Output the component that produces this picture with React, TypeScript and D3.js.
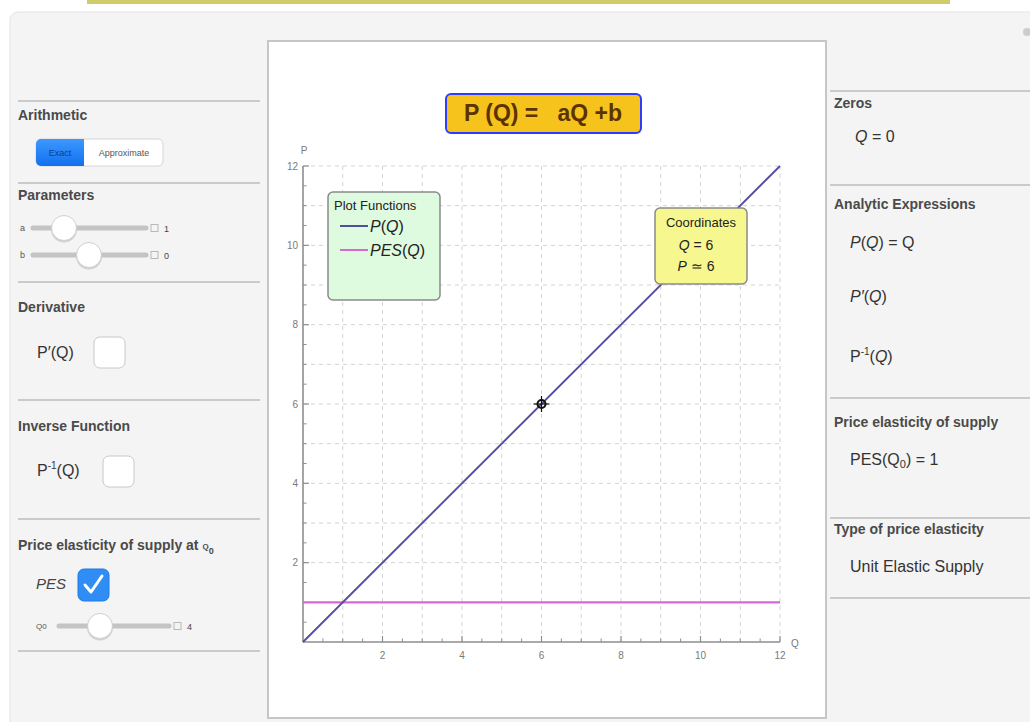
import React from "react";
import * as d3 from "d3";

// ---- data ----
const qDomain = [0, 12];
const pDomain = [0, 12];
const majorTicks = [2, 4, 6, 8, 10, 12];
const gridValues = [1, 2, 3, 4, 5, 6, 7, 8, 9, 10, 11, 12];
const minorTicks = [0.5, 1, 1.5, 2.5, 3, 3.5, 4.5, 5, 5.5, 6.5, 7, 7.5, 8.5, 9, 9.5, 10.5, 11, 11.5];
const supplyQ = [0, 12];
const supplyP = [0, 12];
const pesQ = [0, 12];
const pesP = [1, 1];
const markerQ = 6;
const markerP = 6;

const FONT = "'Liberation Sans', Arial, Helvetica, sans-serif";
const HEAD = "#4a4a4a";
const SEP = "#cacaca";

function Slider({ x1, x2, y, knob, value, label, labelX }: any) {
  return (
    <g>
      <text x={labelX} y={y + 3} fontSize={label.length > 1 ? 8 : 9} fill="#555" fontFamily={FONT}>{label}</text>
      <line x1={x1} x2={x2} y1={y} y2={y} stroke="#c4c4c4" strokeWidth={5} strokeLinecap="round" />
      <circle cx={knob} cy={y + 1.5} r={13} fill="#000" opacity={0.14} />
      <circle cx={knob} cy={y} r={12.5} fill="#fff" stroke="#cfcfcf" strokeWidth={1} />
      <rect x={x2 + 5} y={y - 3.5} width={7} height={7} fill="#f4f4f4" stroke="#b8b8b8" strokeWidth={1} />
      <text x={x2 + 18} y={y + 3.5} fontSize={9} fill="#444" fontFamily={FONT}>{value}</text>
    </g>
  );
}

export default function App() {
  const x = d3.scaleLinear().domain(qDomain).range([303, 780]);
  const y = d3.scaleLinear().domain(pDomain).range([642, 166]);
  const line = d3.line<number>().x((d, i) => x(supplyQ[i])).y((d) => y(d));
  const pesLine = d3.line<number>().x((d, i) => x(pesQ[i])).y((d) => y(d));

  const leftSeps = [101, 183, 282, 400, 519, 651];
  const rightSeps = [91, 185, 398, 518, 598];

  return (
    <svg width={1030} height={722} style={{ position: "absolute", left: 0, top: 0 }} fontFamily={FONT}>
      <defs>
        <linearGradient id="blueBtn" x1="0" y1="0" x2="0" y2="1">
          <stop offset="0" stopColor="#3d98ff" />
          <stop offset="1" stopColor="#1270ee" />
        </linearGradient>
      </defs>
      <rect x={0} y={0} width={1030} height={722} fill="#fff" />
      <rect x={87} y={-2} width={863} height={6} fill="#cfcc6a" />
      <rect x={10} y={12} width={1040} height={720} rx={8} fill="#f4f4f4" stroke="#e4e4e4" />
      <circle cx={1027} cy={32} r={4} fill="#ccc" />

      {/* left panel */}
      {leftSeps.map((s) => (
        <line key={s} x1={18} x2={260} y1={s} y2={s} stroke={SEP} strokeWidth={2} />
      ))}
      <text x={18} y={120} fontSize={14} fontWeight="bold" fill={HEAD}>Arithmetic</text>
      <rect x={36} y={139} width={127} height={27} rx={5} fill="#fff" stroke="#d6d6d6" />
      <path d="M41,139 H84 V166 H41 A5,5 0 0 1 36,161 V144 A5,5 0 0 1 41,139 Z" fill="url(#blueBtn)" />
      <text x={60} y={156} fontSize={9} fill="#0c3f90" textAnchor="middle">Exact</text>
      <text x={124} y={156} fontSize={9} fill="#555" textAnchor="middle">Approximate</text>

      <text x={18} y={200} fontSize={14} fontWeight="bold" fill={HEAD}>Parameters</text>
      <Slider x1={33} x2={146} y={228} knob={64} value="1" label="a" labelX={20} />
      <Slider x1={33} x2={146} y={255} knob={89} value="0" label="b" labelX={20} />

      <text x={18} y={312} fontSize={14} fontWeight="bold" fill={HEAD}>Derivative</text>
      <text x={37} y={358} fontSize={16} fill="#333">P′(Q)</text>
      <rect x={94} y={337} width={31} height={31} rx={6} fill="#fff" stroke="#c8c8c8" />

      <text x={18} y={431} fontSize={14} fontWeight="bold" fill={HEAD}>Inverse Function</text>
      <text x={37} y={476} fontSize={16} fill="#333">P<tspan dy={-7} fontSize={10}>-1</tspan><tspan dy={7}>(Q)</tspan></text>
      <rect x={103} y={456} width={31} height={31} rx={6} fill="#fff" stroke="#c8c8c8" />

      <text x={18} y={550} fontSize={14} fontWeight="bold" fill={HEAD}>Price elasticity of supply at <tspan fontSize={8} dy={-1}>Q</tspan><tspan fontSize={9} dy={5}>0</tspan></text>
      <text x={36} y={589} fontSize={15} fontStyle="italic" fill="#444">PES</text>
      <rect x={78} y={569} width={31} height={32} rx={6} fill="#2f8df5" stroke="#1c7ae6" />
      <path d="M85,585 L91,592 L102,576" fill="none" stroke="#fff" strokeWidth={3} strokeLinecap="round" strokeLinejoin="round" />
      <Slider x1={59} x2={169} y={626} knob={100} value="4" label="Q0" labelX={36} />

      {/* plot panel */}
      <rect x={268} y={41} width={558} height={677} fill="#fff" stroke="#c6c6c6" strokeWidth={2} />

      {/* grid */}
      {gridValues.map((v) => (
        <g key={"g" + v}>
          <line x1={x(v)} x2={x(v)} y1={y(0)} y2={y(12)} stroke="#d2d2d2" strokeDasharray="4,4" />
          <line x1={x(0)} x2={x(12)} y1={y(v)} y2={y(v)} stroke="#d2d2d2" strokeDasharray="4,4" />
        </g>
      ))}
      {/* axes */}
      <line x1={x(0)} x2={x(12)} y1={y(0)} y2={y(0)} stroke="#8e8e8e" strokeWidth={1.6} />
      <line x1={x(0)} x2={x(0)} y1={y(0)} y2={y(12)} stroke="#8e8e8e" strokeWidth={1.6} />
      {majorTicks.map((t) => (
        <g key={"m" + t}>
          <line x1={x(t)} x2={x(t)} y1={y(0)} y2={y(0) - 6} stroke="#8e8e8e" strokeWidth={1.2} />
          <line x1={x(0)} x2={x(0) + 6} y1={y(t)} y2={y(t)} stroke="#8e8e8e" strokeWidth={1.2} />
          <text x={x(t)} y={y(0) + 17} fontSize={10} fill="#7a7a7a" textAnchor="middle">{t}</text>
          <text x={x(0) - 5} y={y(t) + 3.5} fontSize={10} fill="#7a7a7a" textAnchor="end">{t}</text>
        </g>
      ))}
      {minorTicks.map((t) => (
        <g key={"n" + t}>
          <line x1={x(t)} x2={x(t)} y1={y(0)} y2={y(0) - 3.5} stroke="#8e8e8e" />
          <line x1={x(0)} x2={x(0) + 3.5} y1={y(t)} y2={y(t)} stroke="#8e8e8e" />
        </g>
      ))}
      <text x={x(0) + 1} y={y(12) - 12} fontSize={10} fill="#7a7a7a" textAnchor="middle">P</text>
      <text x={x(12) + 11} y={y(0) + 5} fontSize={10} fill="#7a7a7a">Q</text>

      {/* series */}
      <path d={pesLine(pesP) || ""} fill="none" stroke="#d66ad2" strokeWidth={2.2} />
      <path d={line(supplyP) || ""} fill="none" stroke="#544ea0" strokeWidth={1.9} />
      <g transform={`translate(${x(markerQ)},${y(markerP)})`}>
        <circle r={4} fill="none" stroke="#111" strokeWidth={2} />
        <line x1={-8} x2={8} y1={0} y2={0} stroke="#111" strokeWidth={1.2} />
        <line x1={0} x2={0} y1={-8} y2={8} stroke="#111" strokeWidth={1.2} />
      </g>

      {/* title */}
      <rect x={446} y={94} width={195} height={39} rx={5} fill="#f5c31c" stroke="#2b3dff" strokeWidth={2} />
      <text x={543} y={121} fontSize={23} fontWeight="bold" fill="#5b3200" textAnchor="middle" style={{ whiteSpace: "pre" }} xmlSpace="preserve">P (Q) =   aQ +b</text>

      {/* legend */}
      <rect x={328} y={192} width={112} height={108} rx={5} fill="#defbdf" stroke="#8a8a8a" strokeWidth={1.5} />
      <text x={334} y={210} fontSize={13} fill="#222">Plot Functions</text>
      <line x1={340} x2={368} y1={226} y2={226} stroke="#544ea0" strokeWidth={2} />
      <text x={370} y={232} fontSize={16} fontStyle="italic" fill="#222">P<tspan fontStyle="normal">(</tspan>Q<tspan fontStyle="normal">)</tspan></text>
      <line x1={340} x2={368} y1={250} y2={250} stroke="#d66ad2" strokeWidth={2} />
      <text x={370} y={256} fontSize={16} fontStyle="italic" fill="#222">PES<tspan fontStyle="normal">(</tspan>Q<tspan fontStyle="normal">)</tspan></text>

      {/* coordinates */}
      <rect x={655} y={208} width={92} height={76} rx={5} fill="#f6f78f" stroke="#8a8a8a" strokeWidth={1.5} />
      <text x={701} y={227} fontSize={13} fill="#222" textAnchor="middle">Coordinates</text>
      <text x={696} y={250} fontSize={14} fill="#222" textAnchor="middle"><tspan fontStyle="italic">Q</tspan> = 6</text>
      <text x={696} y={271} fontSize={14} fill="#222" textAnchor="middle"><tspan fontStyle="italic">P</tspan> ≃ 6</text>

      {/* right panel */}
      {rightSeps.map((s) => (
        <line key={s} x1={830} x2={1030} y1={s} y2={s} stroke={SEP} strokeWidth={2} />
      ))}
      <text x={834} y={108} fontSize={14} fontWeight="bold" fill={HEAD}>Zeros</text>
      <text x={855} y={142} fontSize={16} fill="#333"><tspan fontStyle="italic">Q</tspan> = 0</text>
      <text x={834} y={209} fontSize={14} fontWeight="bold" fill={HEAD}>Analytic Expressions</text>
      <text x={850} y={248} fontSize={16} fill="#333"><tspan fontStyle="italic">P</tspan>(<tspan fontStyle="italic">Q</tspan>) = Q</text>
      <text x={850} y={302} fontSize={16} fill="#333"><tspan fontStyle="italic">P′</tspan>(<tspan fontStyle="italic">Q</tspan>)</text>
      <text x={850} y={362} fontSize={16} fill="#333">P<tspan dy={-7} fontSize={10}>-1</tspan><tspan dy={7}>(</tspan><tspan fontStyle="italic">Q</tspan>)</text>
      <text x={834} y={427} fontSize={14} fontWeight="bold" fill={HEAD}>Price elasticity of supply</text>
      <text x={850} y={465} fontSize={16} fill="#333">PES(Q<tspan fontSize={11} dy={3}>0</tspan><tspan dy={-3}>) = 1</tspan></text>
      <text x={834} y={534} fontSize={14} fontWeight="bold" fill={HEAD}>Type of price elasticity</text>
      <text x={850} y={572} fontSize={16} fill="#333">Unit Elastic Supply</text>
    </svg>
  );
}
